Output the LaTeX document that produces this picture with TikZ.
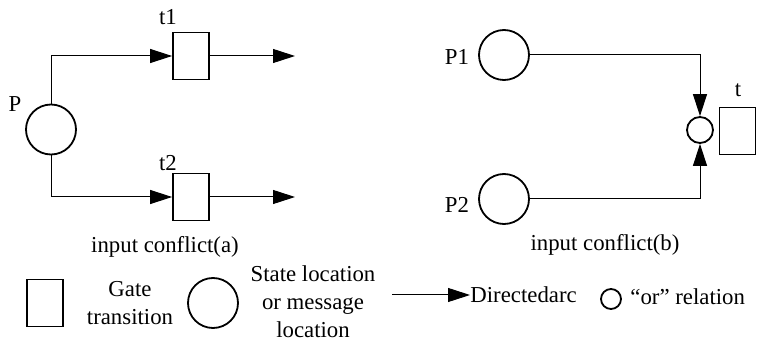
\documentclass[tikz,border=0pt]{standalone}
\usepackage{fontspec}
\setmainfont{Liberation Serif}
\usetikzlibrary{positioning,arrows.meta}

\tikzset{
  gate/.style={draw, line width=0.9pt, rectangle, minimum width=18pt, minimum height=23.5pt, inner sep=0pt},
  place/.style={draw, line width=0.9pt, circle, minimum size=25pt, inner sep=0pt},
  orplace/.style={draw, line width=0.9pt, circle, minimum size=13pt, inner sep=0pt},
  arc/.style={line width=0.5pt, -{Triangle[length=11pt,width=7pt]}},
  lbl/.style={inner sep=0pt, font=\fontsize{11.4}{14}\selectfont, align=center}
}

\begin{document}
\begin{tikzpicture}[x=0.5pt, y=-0.5pt]
\useasboundingbox (0,0) rectangle (767,342);

% Conflito (a)
\node[place] (P) at (51,129.5) {};
\node[lbl] at (15,104) {P};
\node[gate] (t1) at (191,56) {};
\node[lbl] at (168,17) {t1};
\node[gate] (t2) at (191,197) {};
\node[lbl] at (168,163) {t2};
\coordinate (o1) at (295,56);
\coordinate (o2) at (295,197);

\draw[arc] (P.north) |- (t1.west);
\draw[arc] (P.south) |- (t2.west);
\draw[arc] (t1.east) -- (o1);
\draw[arc] (t2.east) -- (o2);

\node[lbl] at (165,247) {input conflict(a)};

% Conflito (b)
\node[place] (P1) at (504,55) {};
\node[lbl] at (457,57) {P1};
\node[place] (P2) at (504,199) {};
\node[lbl] at (457,205) {P2};
\node[orplace] (orc) at (700,130) {};
\node[gate] (t) at (737.5,131) {};
\node[lbl] at (738,90) {t};

\draw[arc] (P1.east) -| (orc.north);
\draw[arc] (P2.east) -| (orc.south);

\node[lbl] at (605,245) {input conflict(b)};

% Legenda
\node[gate] (lgate) at (45,303) {};
\node[lbl] at (130,303) {Gate\\transition};
\node[place] (lplace) at (213,303) {};
\node[lbl] at (313,302) {State location\\or message\\location};
\coordinate (la) at (392,295);
\node[lbl, anchor=west] (ltext) at (470,295) {Directedarc};
\draw[arc] (la) -- (ltext.west);
\node[draw, line width=0.9pt, circle, minimum size=10pt, inner sep=0pt] (lor) at (611,299) {};
\node[lbl, anchor=west] at (630,297) {“or” relation};
\end{tikzpicture}
\end{document}
